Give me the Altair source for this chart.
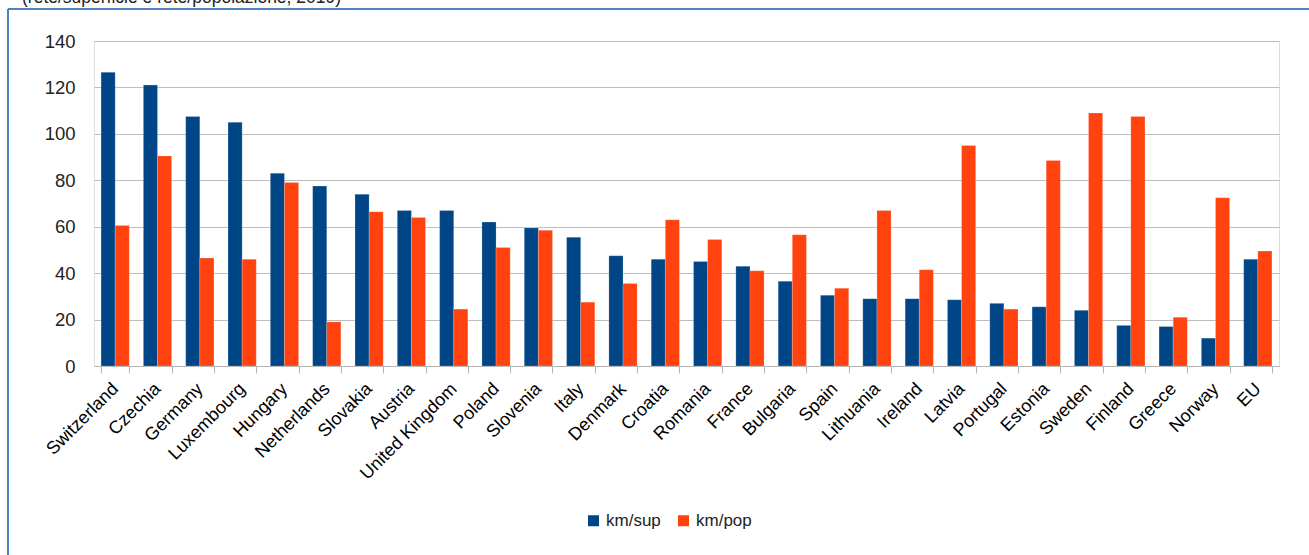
import altair as alt
import pandas as pd

countries = ["Switzerland", "Czechia", "Germany", "Luxembourg", "Hungary", "Netherlands",
             "Slovakia", "Austria", "United Kingdom", "Poland", "Slovenia", "Italy",
             "Denmark", "Croatia", "Romania", "France", "Bulgaria", "Spain", "Lithuania",
             "Ireland", "Latvia", "Portugal", "Estonia", "Sweden", "Finland", "Greece",
             "Norway", "EU"]
km_sup = [126.5, 121, 107.5, 105, 83, 77.5, 74, 67, 67, 62, 59.5, 55.5, 47.5, 46, 45, 43,
          36.5, 30.5, 29, 29, 28.5, 27, 25.5, 24, 17.5, 17, 12, 46]
km_pop = [60.5, 90.5, 46.5, 46, 79, 19, 66.5, 64, 24.5, 51, 58.5, 27.5, 35.5, 63, 54.5, 41,
          56.5, 33.5, 67, 41.5, 95, 24.5, 88.5, 109, 107.5, 21, 72.5, 49.5]
series = ["km/sup", "km/pop"]
colors = ["#004586", "#ff420e"]
title_text = "(rete/superficie e rete/popolazione, 2019)"
y_ticks = [0, 20, 40, 60, 80, 100, 120, 140]

rows = []
for c, a, b in zip(countries, km_sup, km_pop):
    rows.append({"country": c, "serie": series[0], "value": a})
    rows.append({"country": c, "serie": series[1], "value": b})
df = pd.DataFrame(rows)

NARROW = "Liberation Sans Narrow, Arial Narrow, Liberation Sans, Arial"
REG = "Liberation Sans, Arial"

W, H = 1185, 325
PL, PT = 94, 41

bars = alt.Chart(df).mark_bar(stroke="white", strokeWidth=0.4, strokeOpacity=0.5).encode(
    x=alt.X("country:N", sort=countries,
            scale=alt.Scale(paddingInner=0.333, paddingOuter=0.167),
            axis=alt.Axis(title=None, labelAngle=-45, labelAlign="right",
                          labelBaseline="middle", labelFont=REG, labelFontSize=18,
                          labelColor="#000000", labelPadding=13, tickBand="extent",
                          tickSize=7, tickColor="#b3b3b3", domainColor="#b3b3b3",
                          grid=False, labelOverlap=False)),
    xOffset=alt.XOffset("serie:N", sort=series),
    y=alt.Y("value:Q", scale=alt.Scale(domain=[0, 140], nice=False),
            axis=alt.Axis(title=None, values=y_ticks, labelFont=NARROW, labelFontSize=18.5,
                          labelColor="#222222", labelPadding=19, ticks=False, domain=False,
                          grid=True, gridColor="#bdbdbd", gridWidth=1.2)),
    color=alt.Color("serie:N", sort=series,
                    scale=alt.Scale(domain=series, range=colors),
                    legend=alt.Legend(title=None, orient="none", direction="horizontal",
                                      legendX=491, legendY=471, symbolType="square",
                                      symbolSize=121, symbolStrokeWidth=0,
                                      labelFont=NARROW, labelFontSize=17,
                                      labelColor="#222222", labelOffset=4,
                                      columnPadding=14)),
)

left_border = alt.Chart(pd.DataFrame({"k": [0]})).mark_rule(color="#4f81bd", strokeWidth=2).encode(
    x=alt.value(8 - PL), y=alt.value(9 - PT), y2=alt.value(555 - PT + 5))
top_border = alt.Chart(pd.DataFrame({"k": [0]})).mark_rule(color="#4f81bd", strokeWidth=2).encode(
    x=alt.value(8 - PL), x2=alt.value(1309 - PL + 5), y=alt.value(9 - PT))
title = alt.Chart(pd.DataFrame({"t": [title_text]})).mark_text(
    align="left", baseline="alphabetic", font=REG, fontSize=17.5, color="#222222").encode(
    x=alt.value(22 - PL), y=alt.value(3 - PT), text="t:N")

chart = alt.layer(bars, left_border, top_border, title).properties(
    width=W, height=H,
    autosize=alt.AutoSizeParams(type="none"),
    padding={"left": PL, "top": PT, "right": 1309 - PL - W, "bottom": 555 - PT - H},
).configure_view(stroke=None).configure(background="white")

chart.save("out.html", embed_options={"renderer": "svg", "actions": False})
